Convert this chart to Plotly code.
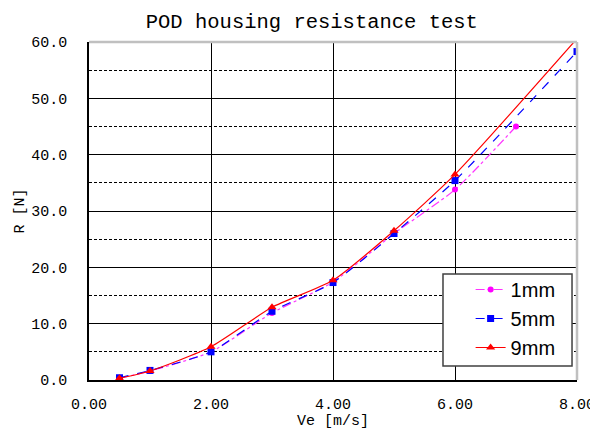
import plotly.graph_objects as go

ve_1mm = [0.5, 1, 2, 3, 4, 5, 6, 7]
r_1mm = [0.3, 1.6, 5.0, 11.9, 17.4, 26.0, 33.8, 45.0]
ve_5mm = [0.5, 1, 2, 3, 4, 5, 6, 8]
r_5mm = [0.4, 1.7, 5.0, 12.2, 17.3, 26.0, 35.4, 58.3]
ve_9mm = [0.5, 1, 2, 3, 4, 5, 6, 8]
r_9mm = [0.3, 1.6, 5.9, 12.9, 17.7, 26.5, 36.5, 60.6]

mono = "Liberation Mono"
fig = go.Figure()
fig.add_trace(go.Scatter(x=ve_1mm, y=r_1mm, name="1mm", mode="lines+markers",
                         line=dict(color="#ff33ff", width=1.2, dash="dashdot", shape="spline", smoothing=0.6),
                         marker=dict(symbol="circle", size=6, color="#ff00ff")))
fig.add_trace(go.Scatter(x=ve_5mm, y=r_5mm, name="5mm", mode="lines+markers",
                         line=dict(color="#0000ff", width=1.2, dash="dash", shape="spline", smoothing=0.6),
                         marker=dict(symbol="square", size=7, color="#0000ff")))
fig.add_trace(go.Scatter(x=ve_9mm, y=r_9mm, name="9mm", mode="lines+markers",
                         line=dict(color="#ff0000", width=1.2, shape="spline", smoothing=0.6),
                         marker=dict(symbol="triangle-up", size=8, color="#ff0000")))

fig.update_layout(
    width=590, height=422,
    margin=dict(l=81, r=21, t=34, b=50),
    paper_bgcolor="white", plot_bgcolor="white",
    title=dict(text="POD housing resistance test", x=0.515, xanchor="center", y=0.97, yanchor="middle",
               font=dict(family=mono, size=20.5, color="black")),
    xaxis=dict(range=[0, 8], dtick=2, tickformat=".2f", showgrid=True, gridcolor="black", gridwidth=1,
               showline=True, linecolor="black", linewidth=1.5, zeroline=False, ticks="",
               automargin=False, ticklabelstandoff=9,
               tickfont=dict(family=mono, size=15, color="black"),
               title=dict(text="Ve [m/s]", font=dict(family=mono, size=15, color="black"), standoff=2)),
    yaxis=dict(range=[0, 60], dtick=10, tickformat=".1f", showgrid=True, gridcolor="black", gridwidth=1,
               showline=True, linecolor="black", linewidth=1.5, zeroline=False, ticks="",
               automargin=False, ticklabelstandoff=17,
               tickfont=dict(family=mono, size=15, color="black"),
               minor=dict(dtick=5, showgrid=True, gridcolor="black", griddash="3px,2px", gridwidth=1),
               title=dict(text="R [N]", font=dict(family=mono, size=15, color="black"), standoff=3)),
    legend=dict(x=0.782, y=0.3254, xanchor="left", yanchor="top", bgcolor="rgba(0,0,0,0)",
                borderwidth=0, tracegroupgap=0,
                font=dict(family="Liberation Sans", size=20, color="black"), itemwidth=30),
    showlegend=True,
)
# legend frame
fig.add_shape(type="rect", xref="paper", yref="paper", x0=0.7254, x1=0.9898, y0=0.0414, y1=0.3136,
              fillcolor="white", line=dict(color="#404040", width=1.5), layer="above")
fig.add_shape(type="line", xref="paper", yref="paper", x0=0, x1=1, y0=1, y1=1,
              line=dict(color="#c0c0c0", width=2.5))
fig.add_shape(type="line", xref="paper", yref="paper", x0=1, x1=1, y0=0, y1=1,
              line=dict(color="#c0c0c0", width=2.5))
fig.write_html("out.html")
